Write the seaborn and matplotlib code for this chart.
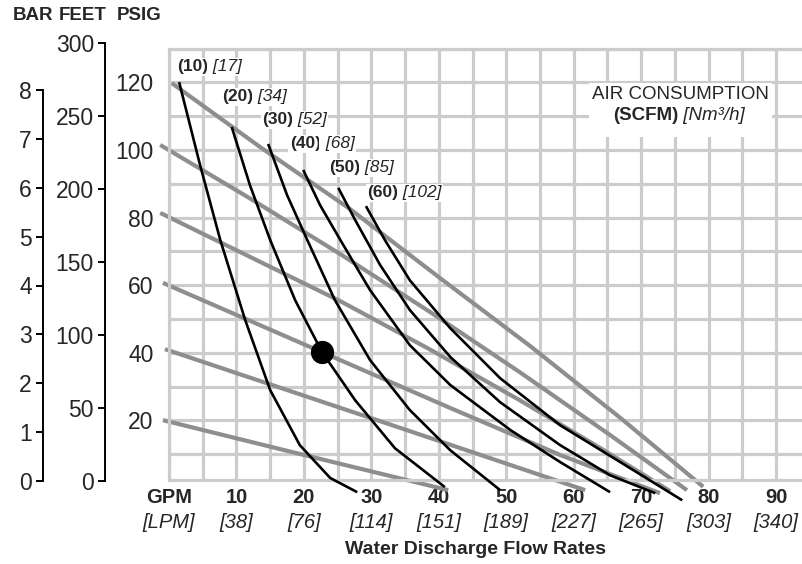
import matplotlib
matplotlib.use("Agg")
import matplotlib.pyplot as plt
import seaborn as sns
import pandas as pd
from matplotlib.patches import Rectangle

# axis ticks / labels
gpm_ticks = [0, 10, 20, 30, 40, 50, 60, 70, 80, 90]
gpm_labels = ['GPM', '10', '20', '30', '40', '50', '60', '70', '80', '90']
lpm_labels = ['[LPM]', '[38]', '[76]', '[114]', '[151]', '[189]', '[227]', '[265]', '[303]', '[340]']
psig_ticks = [20, 40, 60, 80, 100, 120]
bar_ticks = [0, 1, 2, 3, 4, 5, 6, 7, 8]
feet_ticks = [0, 50, 100, 150, 200, 250, 300]

# air consumption curves (black): SCFM and Nm3/h
scfm = [10, 20, 30, 40, 50, 60]
nm3h = [17, 34, 52, 68, 85, 102]
s10_gpm = [1.5, 4.6, 7.6, 11.3, 15.0, 19.4, 23.9, 27.9]
s10_psi = [120.1, 95.6, 73.4, 49.7, 29.0, 12.7, 3.0, -1.2]
s20_gpm = [9.3, 12.0, 15.0, 18.7, 22.7, 27.6, 33.5, 40.9]
s20_psi = [106.8, 89.6, 73.4, 55.6, 40.2, 26.0, 11.8, 0.3]
s30_gpm = [14.7, 17.5, 20.5, 24.6, 29.8, 35.7, 41.7, 49.1]
s30_psi = [101.8, 86.7, 73.4, 55.6, 37.9, 23.1, 11.2, -0.6]
s40_gpm = [19.9, 22.4, 25.4, 29.8, 35.7, 41.7, 50.6, 58.0, 65.4]
s40_psi = [94.1, 83.7, 73.4, 58.6, 42.3, 30.5, 17.2, 7.7, -1.2]
s50_gpm = [25.1, 27.6, 31.3, 35.7, 41.7, 49.1, 58.0, 65.4, 72.1]
s50_psi = [88.8, 79.3, 66.0, 52.7, 38.8, 25.4, 12.7, 3.8, -1.5]
s60_gpm = [29.2, 32.0, 35.7, 41.7, 49.1, 58.0, 66.9, 76.1]
s60_psi = [83.4, 73.4, 61.5, 47.3, 32.5, 18.6, 7.7, -3.6]

# air inlet pressure curves (gray)
p120_gpm = [0.4, 13.5, 26.8, 40.2, 53.5, 66.9, 79.2]
p120_psi = [119.8, 100.9, 82.6, 62.1, 42.1, 20.8, 0.4]
p100_gpm = [-1.3, 12.0, 25.4, 38.7, 52.0, 65.4, 76.8]
p100_psi = [101.5, 85.7, 69.2, 52.1, 34.3, 15.7, -0.6]
p80_gpm = [-1.3, 11.7, 25.4, 38.7, 52.0, 63.9, 74.3]
p80_psi = [81.4, 68.7, 55.3, 41.0, 26.0, 11.9, -0.9]
p60_gpm = [-0.9, 22.7, 41.7, 58.0, 72.8]
p60_psi = [60.7, 40.2, 23.7, 9.8, -1.5]
p40_gpm = [-0.6, 34.3, 61.7]
p40_psi = [41.1, 17.8, -0.6]
p20_gpm = [-0.9, 19.4, 41.4]
p20_psi = [20.1, 10.1, -0.6]

# example operating point
point_gpm = [22.7]
point_psi = [40.2]

# label anchor positions (left edge, centre) for the SCFM labels
label_gpm = [1.2, 7.9, 13.8, 17.9, 23.7, 29.4]
label_psi = [124.6, 115.7, 108.9, 101.8, 94.7, 87.3]

sns.set_style("white")
plt.rcParams['font.family'] = ['Liberation Sans', 'DejaVu Sans']

W, H = 803, 564
fig = plt.figure(figsize=(W / 100, H / 100), dpi=100)

GRID = '#cccccc'
GRAY = '#8e8e8e'

# main chart
ax = fig.add_axes([169 / W, 1 - 480 / H, (W - 169) / W, (480 - 48.6) / H])
ax.set_xlim(0, 94)
ax.set_ylim(2.4, 130)
ax.set_xticks(gpm_ticks)
ax.set_xticks(range(5, 95, 10), minor=True)
ax.set_yticks(psig_ticks)
ax.set_yticks(range(10, 131, 20), minor=True)
ax.grid(True, which='both', color=GRID, lw=2.3)
ax.set_axisbelow(True)
ax.spines['right'].set_visible(False)
for s in ['left', 'bottom', 'top']:
    ax.spines[s].set_color(GRID)
    ax.spines[s].set_linewidth(2.3)
ax.set_xticklabels(gpm_labels, fontsize=14.5, fontweight='bold')
ax.set_yticklabels([str(v) for v in psig_ticks], fontsize=16.5)
ax.tick_params(axis='both', which='both', length=0)
ax.tick_params(axis='x', pad=6)
ax.tick_params(axis='y', pad=11)

sec = ax.secondary_xaxis('bottom')
sec.set_xticks(gpm_ticks)
sec.set_xticklabels(lpm_labels, fontsize=14.5, style='italic')
sec.tick_params(length=0, pad=24)
sec.spines['bottom'].set_visible(False)

gray_curves = [(p120_gpm, p120_psi), (p100_gpm, p100_psi), (p80_gpm, p80_psi),
               (p60_gpm, p60_psi), (p40_gpm, p40_psi), (p20_gpm, p20_psi)]
for gx, gy in gray_curves:
    sns.lineplot(x=gx, y=gy, ax=ax, sort=False, estimator=None, color=GRAY,
                 lw=3.0, clip_on=False, solid_capstyle='butt', zorder=2)

black_curves = [(s10_gpm, s10_psi), (s20_gpm, s20_psi), (s30_gpm, s30_psi),
                (s40_gpm, s40_psi), (s50_gpm, s50_psi), (s60_gpm, s60_psi)]
for bx, by in black_curves:
    sns.lineplot(x=bx, y=by, ax=ax, sort=False, estimator=None, color='black',
                 lw=1.9, clip_on=False, solid_capstyle='butt', zorder=3)

sns.scatterplot(x=point_gpm, y=point_psi, ax=ax, s=280, color='black',
                linewidth=0, zorder=5, clip_on=False)

white = dict(facecolor='white', edgecolor='none', pad=1.0)
for i in range(len(scfm)):
    t = ax.text(label_gpm[i], label_psi[i], f'({scfm[i]})', fontsize=12.5,
                fontweight='bold', ha='left', va='center', bbox=white, zorder=4)
    ax.annotate(f' [{nm3h[i]}]', xy=(1, 0.5), xycoords=t, fontsize=12.5,
                style='italic', ha='left', va='center', bbox=white, zorder=4)

# air consumption legend box
ax.add_patch(Rectangle((62.3, 103.8), 27.1, 16.0, facecolor='white',
                       edgecolor='none', zorder=2.6))
ax.text(75.9, 116.3, 'AIR CONSUMPTION', fontsize=13.5, ha='center',
        va='center', zorder=4)
t = ax.text(75.5, 110.1, '(SCFM)', fontsize=13.5, fontweight='bold',
            ha='right', va='center', zorder=4)
ax.annotate(' [Nm³/h]', xy=(1, 0.5), xycoords=t, fontsize=13.5,
            style='italic', ha='left', va='center', zorder=4)

# BAR axis
ax_bar = fig.add_axes([43 / W, 1 - 481 / H, 0.001, 391 / H])
ax_bar.set_ylim(0, 8)
ax_bar.set_yticks(bar_ticks)
ax_bar.set_yticklabels([str(v) for v in bar_ticks], fontsize=16.5)
# FEET axis
ax_ft = fig.add_axes([105 / W, 1 - 481 / H, 0.001, 438 / H])
ax_ft.set_ylim(0, 300)
ax_ft.set_yticks(feet_ticks)
ax_ft.set_yticklabels([str(v) for v in feet_ticks], fontsize=16.5)
for a in (ax_bar, ax_ft):
    a.patch.set_visible(False)
    a.set_xticks([])
    for s in ['right', 'top', 'bottom']:
        a.spines[s].set_visible(False)
    a.spines['left'].set_color('black')
    a.spines['left'].set_linewidth(1.4)
    a.tick_params(axis='y', length=5, width=1.4, color='black', pad=3, left=True)

# header and axis title
fig.text(33 / W, 1 - 16 / H, 'BAR', fontsize=13.5, fontweight='bold',
         ha='center', va='center')
fig.text(83 / W, 1 - 16 / H, 'FEET', fontsize=13.5, fontweight='bold',
         ha='center', va='center')
fig.text(139 / W, 1 - 16 / H, 'PSIG', fontsize=13.5, fontweight='bold',
         ha='center', va='center')
fig.text(476 / W, 1 - 550 / H, 'Water Discharge Flow Rates', fontsize=14,
         fontweight='bold', ha='center', va='center')

fig.savefig('out.png', dpi=100)
